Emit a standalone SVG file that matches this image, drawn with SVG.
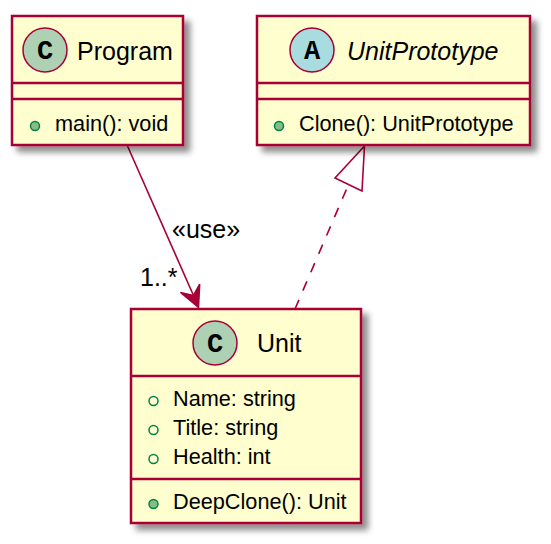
<svg xmlns="http://www.w3.org/2000/svg" width="551" height="544" viewBox="0 0 551 544">
<defs>
<filter id="sh" x="-10%" y="-10%" width="130%" height="130%">
<feGaussianBlur in="SourceAlpha" stdDeviation="3"/>
<feOffset dx="6" dy="6" result="b"/>
<feComponentTransfer><feFuncA type="linear" slope="0.45"/></feComponentTransfer>
<feMerge><feMergeNode/><feMergeNode in="SourceGraphic"/></feMerge>
</filter>
</defs>
<style>
.box{fill:#FEFECE;stroke:#A80036;stroke-width:2.5;filter:url(#sh)}
.sep{stroke:#A80036;stroke-width:2.5}
.cc{fill:#ADD1B2;stroke:#A80036;stroke-width:1.5}
.ca{fill:#A9DCDF;stroke:#A80036;stroke-width:1.5}
.lt{font-family:"Liberation Mono",monospace;font-weight:bold;font-size:27px;fill:#000;text-anchor:middle}
.hd{font-family:"Liberation Sans",Arial,sans-serif;font-size:25px;fill:#000}
.mb{font-family:"Liberation Sans",Arial,sans-serif;font-size:21.7px;fill:#000}
.lb{font-family:"Liberation Sans",Arial,sans-serif;font-size:25px;fill:#000}
.fa{fill:none;stroke:#038048;stroke-width:1.5}
.fm{fill:#84BE84;stroke:#038048;stroke-width:1.5}
.ln{fill:none;stroke:#A80036;stroke-width:1.6}
</style>
<g id="edges">
<line class="ln" x1="127.5" y1="146" x2="193.5" y2="295.5"/>
<polygon points="198.5,307.5 180.5,292.5 193.3,295.6 199.7,284.1" fill="#A80036" stroke="#A80036" stroke-width="1.5"/>
<text class="lb" x="172" y="238">«use»</text>
<text class="lb" x="140" y="286">1..*</text>
<line class="ln" x1="295" y1="309" x2="348.5" y2="184.5" stroke-dasharray="10,10"/>
<polygon points="364.5,146 335,178 362,191" fill="none" stroke="#A80036" stroke-width="1.6"/>
</g>
<g id="Program">
<rect class="box" x="12" y="16" width="171" height="129"/>
<line class="sep" x1="12" y1="83" x2="183" y2="83"/>
<line class="sep" x1="12" y1="99" x2="183" y2="99"/>
<circle class="cc" cx="45" cy="50" r="22"/>
<text class="lt" x="45" y="59">C</text>
<text class="hd" x="77" y="60">Program</text>
<circle class="fm" cx="35" cy="126" r="4.5"/>
<text class="mb" x="55" y="131">main(): void</text>
</g>
<g id="UnitPrototype">
<rect class="box" x="257" y="16" width="273" height="129"/>
<line class="sep" x1="257" y1="83" x2="530" y2="83"/>
<line class="sep" x1="257" y1="99" x2="530" y2="99"/>
<circle class="ca" cx="312" cy="50" r="22"/>
<text class="lt" x="312" y="59">A</text>
<text class="hd" x="347" y="60" font-style="italic">UnitPrototype</text>
<circle class="fm" cx="279" cy="126" r="4.5"/>
<text class="mb" x="299" y="131">Clone(): UnitPrototype</text>
</g>
<g id="Unit">
<rect class="box" x="131" y="309" width="230" height="214"/>
<line class="sep" x1="131" y1="376" x2="361" y2="376"/>
<line class="sep" x1="131" y1="479" x2="361" y2="479"/>
<circle class="cc" cx="215" cy="343" r="22"/>
<text class="lt" x="215" y="352">C</text>
<text class="hd" x="257" y="352">Unit</text>
<circle class="fa" cx="153.5" cy="401" r="4.5"/>
<text class="mb" x="173" y="406">Name: string</text>
<circle class="fa" cx="153.5" cy="430" r="4.5"/>
<text class="mb" x="173" y="435">Title: string</text>
<circle class="fa" cx="153.5" cy="459" r="4.5"/>
<text class="mb" x="173" y="464">Health: int</text>
<circle class="fm" cx="153.5" cy="504" r="4.5"/>
<text class="mb" x="173" y="509">DeepClone(): Unit</text>
</g>
</svg>
